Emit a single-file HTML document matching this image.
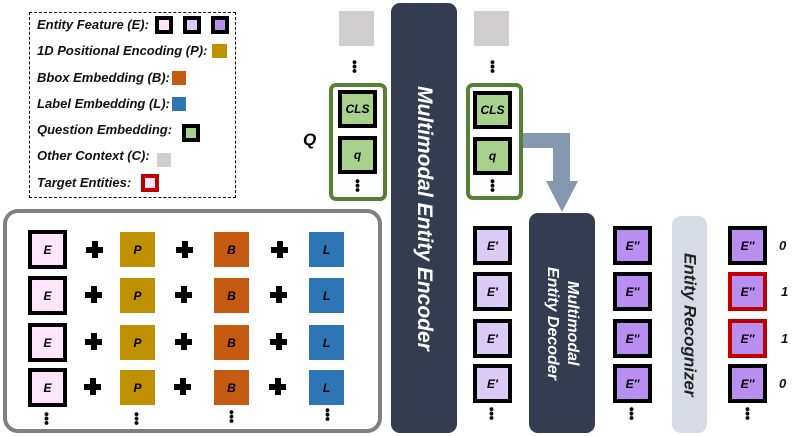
<!DOCTYPE html>
<html><head><meta charset="utf-8"><style>
*{margin:0;padding:0;box-sizing:border-box}
body{width:793px;height:436px;background:#fff;position:relative;overflow:hidden;font-family:"Liberation Sans",sans-serif;font-weight:bold;font-style:italic}
div{position:absolute}
.b{display:flex;align-items:center;justify-content:center;font-size:12px;color:#000}
.bk{border:4px solid #000}
.rd{border:4px solid #c00000}
.e{background:#fce4fa}.e1{background:#dccaf7}.e2{background:#b88ef0}
.p{background:#bf9000}.bb{background:#c55a11}.l{background:#2e75b6}
.g{background:#a9d18e}.gr{background:#d0cece}
.t{font-size:13px;color:#111;white-space:nowrap}
.dots{width:5px;height:13px;background:radial-gradient(circle,#000 1.7px,transparent 2.2px) 0 0/5px 4.4px}
.pl{width:17px;height:17px}
.pl:before,.pl:after{content:"";position:absolute;background:#000}
.pl:before{left:0;top:5.5px;width:17px;height:6px}
.pl:after{left:5.5px;top:0;width:6px;height:17px}
.bar{background:#333d4f;border-radius:9px;color:#fff;writing-mode:vertical-rl;display:flex;align-items:center;justify-content:center;font-size:20px}
</style></head><body>
<!-- legend -->
<div style="left:29px;top:12px;width:207px;height:186px;border:1.5px dashed #000"></div>
<div class="t" style="left:37px;top:17px">Entity Feature (E):</div>
<div class="bk e" style="left:155px;top:16px;width:18px;height:18px"></div>
<div class="bk e1" style="left:183px;top:16px;width:18px;height:18px"></div>
<div class="bk e2" style="left:211px;top:16px;width:18px;height:18px"></div>
<div class="t" style="left:37px;top:43px">1D Positional Encoding (P):</div>
<div class="p" style="left:212px;top:44px;width:15px;height:14px"></div>
<div class="t" style="left:37px;top:70px">Bbox Embedding (B):</div>
<div class="bb" style="left:172px;top:71px;width:14px;height:14px"></div>
<div class="t" style="left:37px;top:96px">Label Embedding (L):</div>
<div class="l" style="left:172px;top:97px;width:14px;height:14px"></div>
<div class="t" style="left:37px;top:122px">Question Embedding:</div>
<div class="bk g" style="left:182px;top:124px;width:18px;height:18px"></div>
<div class="t" style="left:37px;top:148px">Other Context (C):</div>
<div class="gr" style="left:157px;top:153px;width:14px;height:14px"></div>
<div class="t" style="left:37px;top:175px">Target Entities:</div>
<div class="rd e" style="left:141px;top:174px;width:18px;height:18px"></div>

<!-- left Q -->
<div class="gr" style="left:339px;top:11px;width:35px;height:35px"></div>
<div class="dots" style="left:352px;top:60px"></div>
<div style="left:303px;top:130px;font-size:17px;color:#000">Q</div>
<div style="left:329px;top:83px;width:58px;height:118px;border:4px solid #548235;border-radius:7px"></div>
<div class="b bk g" style="left:338px;top:90px;width:39px;height:38px">CLS</div>
<div class="b bk g" style="left:338px;top:136px;width:39px;height:38px">q</div>
<div class="dots" style="left:355px;top:179px"></div>

<!-- encoder -->
<div class="bar" style="left:391px;top:3px;width:66px;height:430px;font-size:21px">Multimodal Entity Encoder</div>

<!-- right Q -->
<div class="gr" style="left:474px;top:11px;width:35px;height:35px"></div>
<div class="dots" style="left:490px;top:60px"></div>
<div style="left:466px;top:83px;width:57px;height:117px;border:4px solid #548235;border-radius:7px"></div>
<div class="b bk g" style="left:473px;top:91px;width:39px;height:38px">CLS</div>
<div class="b bk g" style="left:473px;top:137px;width:39px;height:38px">q</div>
<div class="dots" style="left:490px;top:179px"></div>

<!-- arrow -->
<svg style="position:absolute;left:0;top:0" width="793" height="436"><path d="M523 133 H570 V181 H578 L562 212 L546 181 H553 V148 H523 Z" fill="#8498b0"/></svg>

<!-- decoder -->
<div class="bar" style="left:529px;top:213px;width:66px;height:220px;font-size:16px;line-height:20px;text-align:center">Multimodal<br>Entity Decoder</div>
<!-- recognizer -->
<div class="bar" style="left:672px;top:216px;width:35px;height:217px;background:#d6dbe5;color:#222;font-size:17px">Entity Recognizer</div>

<!-- columns -->
<div class="b bk e1" style="left:473px;top:226px;width:39px;height:39px">E′</div>
<div class="b bk e1" style="left:473px;top:272px;width:39px;height:39px">E′</div>
<div class="b bk e1" style="left:473px;top:319px;width:39px;height:39px">E′</div>
<div class="b bk e1" style="left:473px;top:364px;width:39px;height:39px">E′</div>
<div class="dots" style="left:489px;top:407px"></div>

<div class="b bk e2" style="left:613px;top:226px;width:39px;height:39px">E′′</div>
<div class="b bk e2" style="left:613px;top:272px;width:39px;height:39px">E′′</div>
<div class="b bk e2" style="left:613px;top:319px;width:39px;height:39px">E′′</div>
<div class="b bk e2" style="left:613px;top:364px;width:39px;height:39px">E′′</div>
<div class="dots" style="left:629px;top:407px"></div>

<div class="b bk e2" style="left:728px;top:226px;width:39px;height:39px">E′′</div>
<div class="b rd e2" style="left:728px;top:272px;width:39px;height:39px">E′′</div>
<div class="b rd e2" style="left:728px;top:319px;width:39px;height:39px">E′′</div>
<div class="b bk e2" style="left:728px;top:364px;width:39px;height:39px">E′′</div>
<div class="dots" style="left:745px;top:407px"></div>
<div class="t" style="left:779px;top:238px">0</div>
<div class="t" style="left:781px;top:284px">1</div>
<div class="t" style="left:781px;top:331px">1</div>
<div class="t" style="left:779px;top:376px">0</div>

<!-- left big box -->
<div style="left:3px;top:209px;width:379px;height:224px;border:4px solid #808080;border-radius:15px"></div>
<div class="b bk e" style="left:28px;top:230px;width:39px;height:39px">E</div>
<div class="b bk e" style="left:28px;top:276px;width:39px;height:39px">E</div>
<div class="b bk e" style="left:28px;top:323px;width:39px;height:39px">E</div>
<div class="b bk e" style="left:28px;top:368px;width:39px;height:39px">E</div>
<div class="b p" style="left:120px;top:232px;width:35px;height:35px">P</div>
<div class="b p" style="left:120px;top:278px;width:35px;height:35px">P</div>
<div class="b p" style="left:120px;top:325px;width:35px;height:35px">P</div>
<div class="b p" style="left:120px;top:370px;width:35px;height:35px">P</div>
<div class="b bb" style="left:214px;top:232px;width:35px;height:35px">B</div>
<div class="b bb" style="left:214px;top:278px;width:35px;height:35px">B</div>
<div class="b bb" style="left:214px;top:325px;width:35px;height:35px">B</div>
<div class="b bb" style="left:214px;top:370px;width:35px;height:35px">B</div>
<div class="b l" style="left:309px;top:232px;width:35px;height:35px">L</div>
<div class="b l" style="left:309px;top:278px;width:35px;height:35px">L</div>
<div class="b l" style="left:309px;top:325px;width:35px;height:35px">L</div>
<div class="b l" style="left:309px;top:370px;width:35px;height:35px">L</div>
<div class="pl" style="left:86px;top:241px"></div><div class="pl" style="left:176px;top:241px"></div><div class="pl" style="left:271px;top:241px"></div>
<div class="pl" style="left:85px;top:286px"></div><div class="pl" style="left:175px;top:286px"></div><div class="pl" style="left:270px;top:286px"></div>
<div class="pl" style="left:85px;top:333px"></div><div class="pl" style="left:175px;top:333px"></div><div class="pl" style="left:270px;top:333px"></div>
<div class="pl" style="left:84px;top:378px"></div><div class="pl" style="left:174px;top:378px"></div><div class="pl" style="left:269px;top:378px"></div>
<div class="dots" style="left:44px;top:412px"></div>
<div class="dots" style="left:134px;top:412px"></div>
<div class="dots" style="left:229px;top:410px"></div>
<div class="dots" style="left:325px;top:408px"></div>
</body></html>
